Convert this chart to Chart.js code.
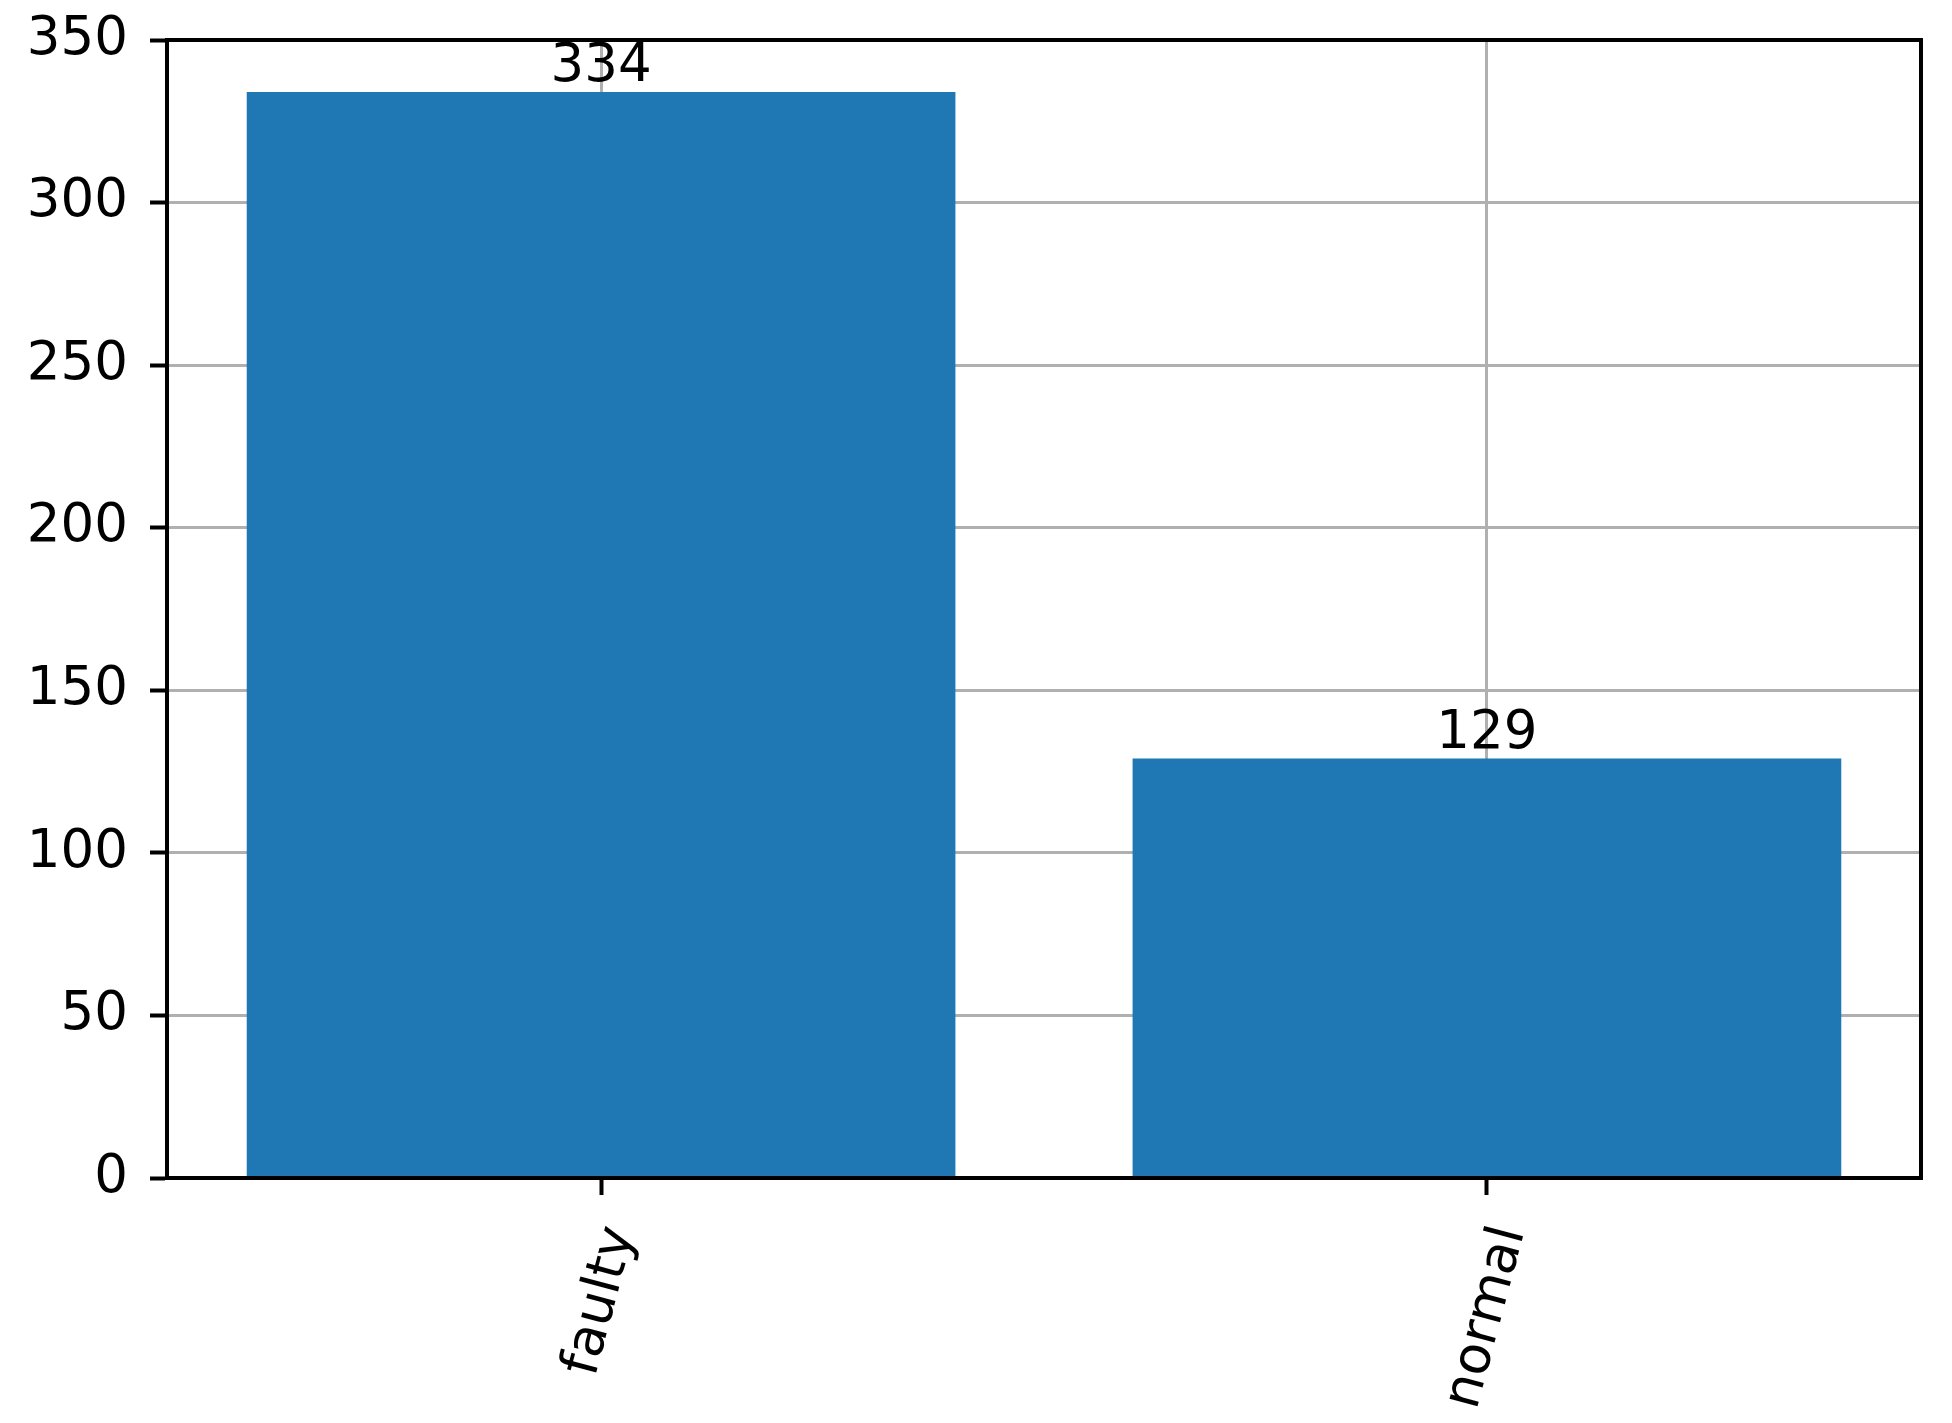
<!DOCTYPE html>
<html>
<head>
<meta charset="utf-8">
<script src="https://cdn.jsdelivr.net/npm/chart.js@4/dist/chart.umd.min.js"></script>
<style>
  body { margin: 0; background: #fff; }
  canvas { display: block; }
</style>
</head>
<body>
<canvas id="chart" width="1952" height="1423"></canvas>
<script>
// data
const categories = ["faulty", "normal"];
const counts = [334, 129];
const yTicks = [0, 50, 100, 150, 200, 250, 300, 350];

const FONT = "'DejaVu Sans', sans-serif";
const FONT_SIZE = 53;

// bar value labels + rotated category labels + top/right spines
const extras = {
    id: "extras",
    afterDraw(chart) {
        const ctx = chart.ctx;
        const xs = chart.scales.x;
        const ys = chart.scales.y;
        const area = chart.chartArea;
        ctx.save();

        // spines
        ctx.strokeStyle = "#000";
        ctx.lineWidth = 4;
        ctx.strokeRect(area.left, area.top, area.right - area.left, area.bottom - area.top);

        ctx.fillStyle = "#000";
        ctx.font = FONT_SIZE + "px " + FONT;

        // values above bars
        ctx.textAlign = "center";
        ctx.textBaseline = "alphabetic";
        counts.forEach((v, i) => {
            ctx.fillText(String(v), xs.getPixelForValue(i), ys.getPixelForValue(v) - 11);
        });

        // x labels, rotated 75 deg, bbox centered on tick
        const ang = 75 * Math.PI / 180;
        const h = FONT_SIZE * 1.17;
        categories.forEach((c, i) => {
            const w = ctx.measureText(c).width;
            const bh = w * Math.sin(ang) + h * Math.cos(ang);
            const x = xs.getPixelForValue(i);
            const y = area.bottom + 42 + bh / 2;
            ctx.save();
            ctx.translate(x, y);
            ctx.rotate(-ang);
            ctx.textAlign = "center";
            ctx.textBaseline = "middle";
            ctx.fillText(c, 0, 0);
            ctx.restore();
        });
        ctx.restore();
    }
};

const ctx = document.getElementById("chart").getContext("2d");

new Chart(ctx, {
    type: "bar",
    data: {
        datasets: [{
            data: counts.map((v, i) => ({ x: i, y: v })),
            backgroundColor: "#1f77b4",
            borderWidth: 0,
            categoryPercentage: 0.8,
            barPercentage: 1.0
        }]
    },
    options: {
        responsive: false,
        animation: false,
        layout: { padding: { top: 40, right: 31, left: 0, bottom: 0 } },
        plugins: {
            legend: { display: false },
            tooltip: { enabled: false }
        },
        scales: {
            x: {
                type: "linear",
                z: 1,
                min: -0.49,
                max: 1.49,
                offset: false,
                afterBuildTicks(scale) {
                    scale.ticks = categories.map((c, i) => ({ value: i }));
                },
                grid: {
                    offset: false,
                    color: "#b0b0b0",
                    lineWidth: 3,
                    drawTicks: true,
                    tickLength: 17,
                    tickColor: "#000",
                    tickWidth: 4
                },
                border: { display: true, color: "#000", width: 4 },
                ticks: { display: false },
                afterFit(scale) {
                    scale.height = 1423 - 1178;
                    scale.paddingLeft = 0;
                    scale.paddingRight = 0;
                }
            },
            y: {
                z: 1,
                min: 0,
                max: 350,
                afterBuildTicks(scale) {
                    scale.ticks = yTicks.map(v => ({ value: v }));
                },
                grid: {
                    color: "#b0b0b0",
                    lineWidth: 3,
                    drawTicks: true,
                    tickLength: 17,
                    tickColor: "#000",
                    tickWidth: 4
                },
                border: { display: true, color: "#000", width: 4 },
                ticks: {
                    color: "#000",
                    padding: 22,
                    font: { family: FONT, size: FONT_SIZE }
                },
                afterFit(scale) {
                    scale.width = 167;
                    scale.paddingTop = 0;
                    scale.paddingBottom = 0;
                }
            }
        }
    },
    plugins: [extras]
});
</script>
</body>
</html>
